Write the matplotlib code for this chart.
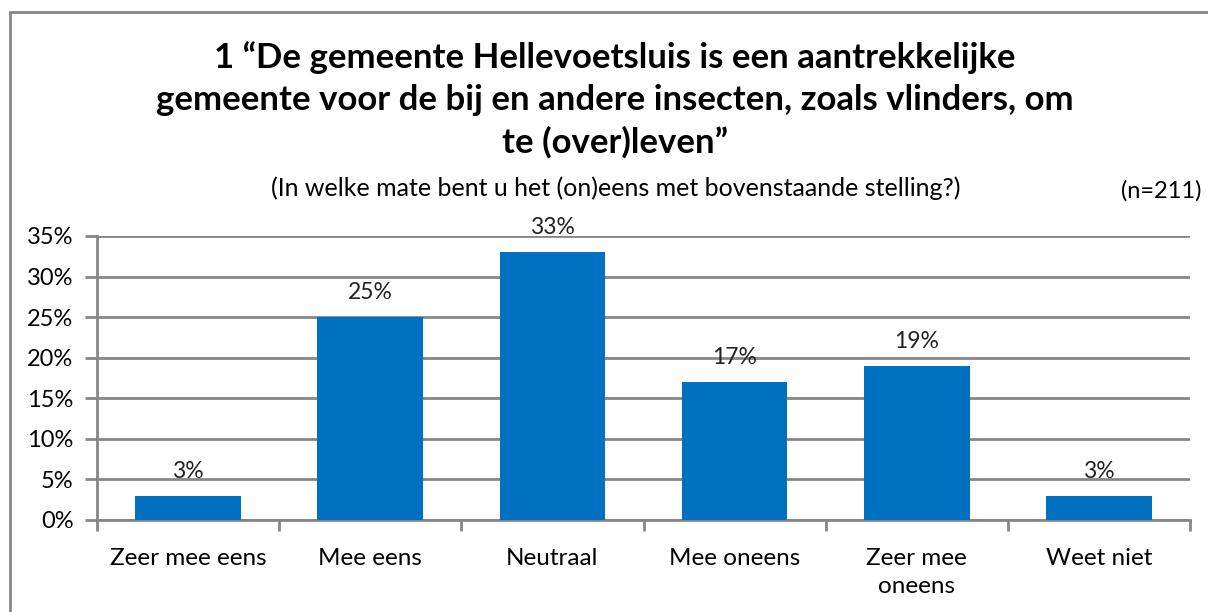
import matplotlib
matplotlib.use('Agg')
import matplotlib.pyplot as plt
from matplotlib.patches import Rectangle

plt.rcParams['font.family'] = ['Lato', 'DejaVu Sans']

categories = ['Zeer mee eens', 'Mee eens', 'Neutraal', 'Mee oneens', 'Zeer mee\noneens', 'Weet niet']
values = [3, 25, 33, 17, 19, 3]
yticks = [0, 5, 10, 15, 20, 25, 30, 35]

title = ('1 \u201cDe gemeente Hellevoetsluis is een aantrekkelijke\n'
         'gemeente voor de bij en andere insecten, zoals vlinders, om\n'
         'te (over)leven\u201d')
subtitle = '(In welke mate bent u het (on)eens met bovenstaande stelling?)'
n_text = '(n=211)'

grey = '#868686'
blue = '#0070C0'

W, H = 1208, 612
fig = plt.figure(figsize=(W / 100, H / 100), dpi=100)

# outer chart frame (cut off at right and bottom like the screenshot)
fig.patches.append(Rectangle((10 / W, -0.1), 1.2, 1 - 12 / H + 0.1,
                             transform=fig.transFigure, fill=False,
                             edgecolor=grey, linewidth=2))

ax = fig.add_axes([97 / W, 1 - 520 / H, (1190 - 97) / W, (520 - 236) / H])

x = list(range(len(categories)))
ax.bar(x, values, width=0.58, color=blue, zorder=3)

for xi, v in zip(x, values):
    ax.annotate(f'{v}%', (xi, v), xytext=(0, 10), textcoords='offset points',
                ha='center', va='bottom', fontsize=16.5, color='#222222')

ax.set_xlim(-0.5, len(categories) - 0.5)
ax.set_ylim(0, 35)
ax.set_yticks(yticks)
ax.set_yticklabels([f'{t}%' for t in yticks])
ax.yaxis.grid(True, color=grey, linewidth=2, zorder=0)
ax.set_axisbelow(True)

ax.set_xticks(x)
ax.set_xticklabels(categories, fontsize=17.5, linespacing=1.4)
ax.set_xticks([i - 0.5 for i in range(len(categories) + 1)], minor=True)
ax.tick_params(axis='x', which='major', length=0, pad=20)
ax.tick_params(axis='x', which='minor', length=8, width=2, color=grey, direction='out')
ax.tick_params(axis='y', length=9, width=2, color=grey, labelsize=17, pad=8)

for s in ['top', 'right']:
    ax.spines[s].set_visible(False)
for s in ['left', 'bottom']:
    ax.spines[s].set_color(grey)
    ax.spines[s].set_linewidth(2)

fig.text(615 / W, 1 - 100 / H, title, ha='center', va='center',
         fontsize=25, fontweight='bold', linespacing=1.38)
fig.text(616 / W, 1 - 188 / H, subtitle, ha='center', va='center', fontsize=18)
fig.text(1201 / W, 1 - 191 / H, n_text, ha='right', va='center', fontsize=17)

fig.savefig('out.png', dpi=100)
